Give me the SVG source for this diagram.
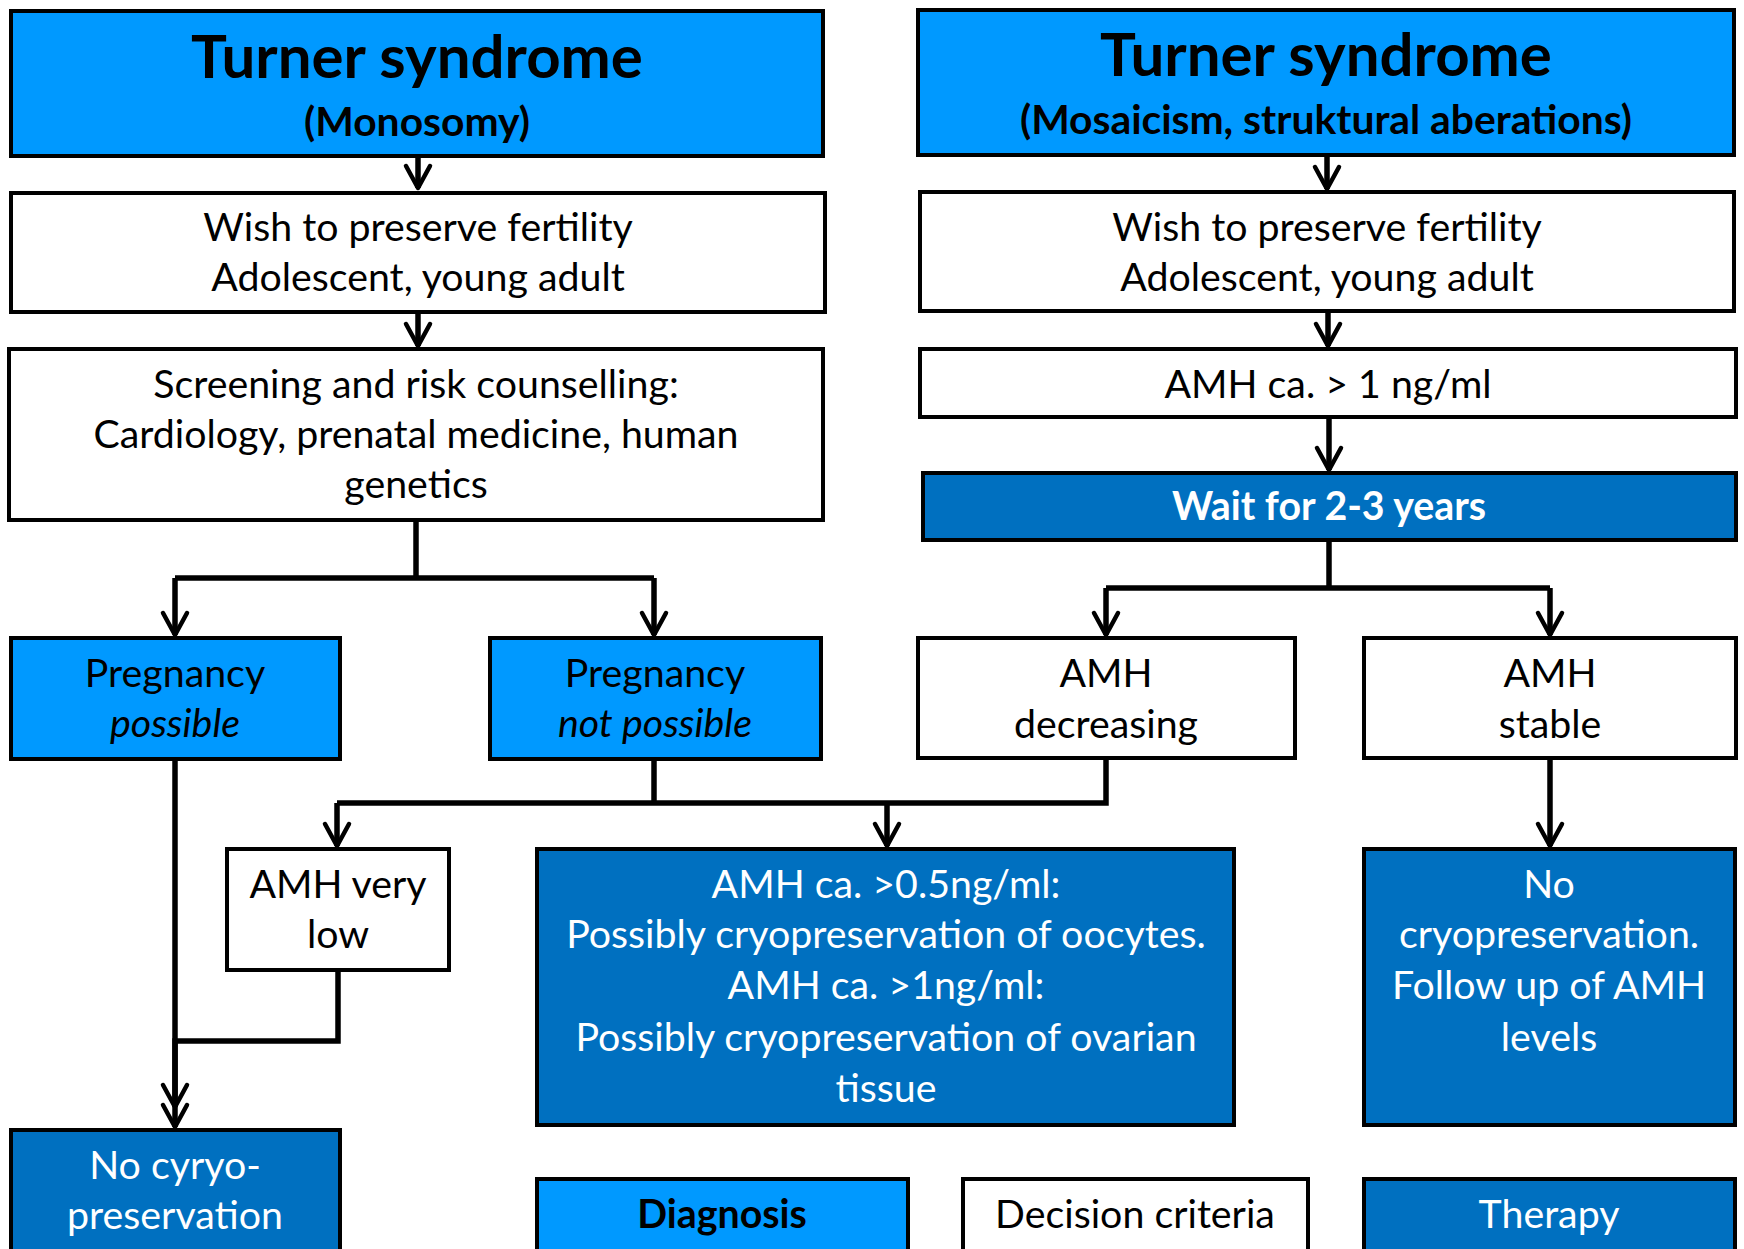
<svg xmlns="http://www.w3.org/2000/svg" width="1744" height="1249" viewBox="0 0 1744 1249">
<defs>
<style>
.box{stroke:#000;stroke-width:4}
.dx{fill:#0099FF}
.cr{fill:#FFFFFF}
.th{fill:#0070C0}
text{font-family:Lato,"Open Sans","Liberation Sans",sans-serif;text-anchor:middle}
.t1{font-size:60px;font-weight:bold;fill:#000}
.t2{font-size:40.8px;font-weight:bold;fill:#000}
.b{font-size:39.3px;fill:#000}
.w{font-size:39.3px;fill:#fff}
.wb{font-size:39.3px;fill:#fff;font-weight:bold}
.bb{font-size:39.3px;fill:#000;font-weight:bold}
.i{font-style:italic}
.con{fill:none;stroke:#000;stroke-width:5.5;stroke-linejoin:miter}
</style>
<marker id="arr" viewBox="-27 -16 31 32" refX="0" refY="0" markerWidth="31" markerHeight="32" markerUnits="userSpaceOnUse" orient="auto">
<path d="M-22,-12 L0,0 L-22,12" fill="none" stroke="#000" stroke-width="4.5" stroke-linecap="round" stroke-linejoin="round"/>
</marker>
</defs>
<rect width="1744" height="1249" fill="#fff"/>

<g id="connectors">
<path class="con" d="M418,158 V188" marker-end="url(#arr)"/>
<path class="con" d="M418,314 V346" marker-end="url(#arr)"/>
<path class="con" d="M416,522 V578"/>
<path class="con" d="M175,578 H654"/>
<path class="con" d="M175,578 V635" marker-end="url(#arr)"/>
<path class="con" d="M654,578 V635" marker-end="url(#arr)"/>
<path class="con" d="M654,761 V803"/>
<path class="con" d="M1106,760 V803 H337"/>
<path class="con" d="M337,803 V846" marker-end="url(#arr)"/>
<path class="con" d="M887,803 V846" marker-end="url(#arr)"/>
<path class="con" d="M175,761 V1127" marker-end="url(#arr)"/>
<path class="con" d="M338,972 V1041 H175 V1107" marker-end="url(#arr)"/>
<path class="con" d="M1327,157 V189" marker-end="url(#arr)"/>
<path class="con" d="M1328,313 V346" marker-end="url(#arr)"/>
<path class="con" d="M1329,419 V470" marker-end="url(#arr)"/>
<path class="con" d="M1329,542 V588"/>
<path class="con" d="M1106,588 H1550"/>
<path class="con" d="M1106,588 V635" marker-end="url(#arr)"/>
<path class="con" d="M1550,588 V635" marker-end="url(#arr)"/>
<path class="con" d="M1550,760 V846" marker-end="url(#arr)"/>
</g>

<g id="title-left">
<rect class="box dx" x="11" y="11" width="812" height="145"/>
<text class="t1" x="417" y="78">Turner syndrome</text>
<text class="t2" x="417" y="136">(Monosomy)</text>
</g>
<g id="wish-left">
<rect class="box cr" x="11" y="193" width="814" height="119"/>
<text class="b" x="418" y="241">Wish to preserve fertility</text>
<text class="b" x="418" y="291">Adolescent, young adult</text>
</g>
<g id="screening">
<rect class="box cr" x="9" y="349" width="814" height="171"/>
<text class="b" x="416" y="398">Screening and risk counselling:</text>
<text class="b" x="416" y="448">Cardiology, prenatal medicine, human</text>
<text class="b" x="416" y="498">genetics</text>
</g>
<g id="preg-possible">
<rect class="box dx" x="11" y="638" width="329" height="121"/>
<text class="b" x="175" y="687">Pregnancy</text>
<text class="b i" x="175" y="737">possible</text>
</g>
<g id="preg-not-possible">
<rect class="box dx" x="490" y="638" width="331" height="121"/>
<text class="b" x="655" y="687">Pregnancy</text>
<text class="b i" x="655" y="737">not possible</text>
</g>
<g id="amh-very-low">
<rect class="box cr" x="227" y="849" width="222" height="121"/>
<text class="b" x="338" y="898">AMH very</text>
<text class="b" x="338" y="948">low</text>
</g>
<g id="no-cyryo">
<rect class="box th" x="11" y="1130" width="329" height="140"/>
<text class="w" x="175" y="1179">No cyryo-</text>
<text class="w" x="175" y="1229">preservation</text>
</g>
<g id="cryo-options">
<rect class="box th" x="537" y="849" width="697" height="276"/>
<text class="w" x="886" y="898">AMH ca. &gt;0.5ng/ml:</text>
<text class="w" x="886" y="948">Possibly cryopreservation of oocytes.</text>
<text class="w" x="886" y="999">AMH ca. &gt;1ng/ml:</text>
<text class="w" x="886" y="1051">Possibly cryopreservation of ovarian</text>
<text class="w" x="886" y="1102">tissue</text>
</g>
<g id="title-right">
<rect class="box dx" x="918" y="10" width="816" height="145"/>
<text class="t1" x="1326" y="76">Turner syndrome</text>
<text class="t2" x="1326" y="134">(Mosaicism, struktural aberations)</text>
</g>
<g id="wish-right">
<rect class="box cr" x="920" y="192" width="814" height="119"/>
<text class="b" x="1327" y="241">Wish to preserve fertility</text>
<text class="b" x="1327" y="291">Adolescent, young adult</text>
</g>
<g id="amh-gt1">
<rect class="box cr" x="920" y="349" width="816" height="68"/>
<text class="b" x="1328" y="398">AMH ca. &gt; 1 ng/ml</text>
</g>
<g id="wait">
<rect class="box th" x="923" y="473" width="813" height="67"/>
<text class="wb" x="1329" y="520">Wait for 2-3 years</text>
</g>
<g id="amh-decreasing">
<rect class="box cr" x="918" y="638" width="377" height="120"/>
<text class="b" x="1106" y="687">AMH</text>
<text class="b" x="1106" y="738">decreasing</text>
</g>
<g id="amh-stable">
<rect class="box cr" x="1364" y="638" width="372" height="120"/>
<text class="b" x="1550" y="687">AMH</text>
<text class="b" x="1550" y="738">stable</text>
</g>
<g id="no-cryo-followup">
<rect class="box th" x="1364" y="849" width="371" height="276"/>
<text class="w" x="1549" y="898">No</text>
<text class="w" x="1549" y="948">cryopreservation.</text>
<text class="w" x="1549" y="999">Follow up of AMH</text>
<text class="w" x="1549" y="1051">levels</text>
</g>
<g id="legend-diagnosis">
<rect class="box dx" x="537" y="1179" width="371" height="100"/>
<text class="bb" x="722" y="1228">Diagnosis</text>
</g>
<g id="legend-decision">
<rect class="box cr" x="963" y="1179" width="345" height="100"/>
<text class="b" x="1135" y="1228">Decision criteria</text>
</g>
<g id="legend-therapy">
<rect class="box th" x="1364" y="1179" width="371" height="100"/>
<text class="w" x="1549" y="1228">Therapy</text>
</g>
</svg>
